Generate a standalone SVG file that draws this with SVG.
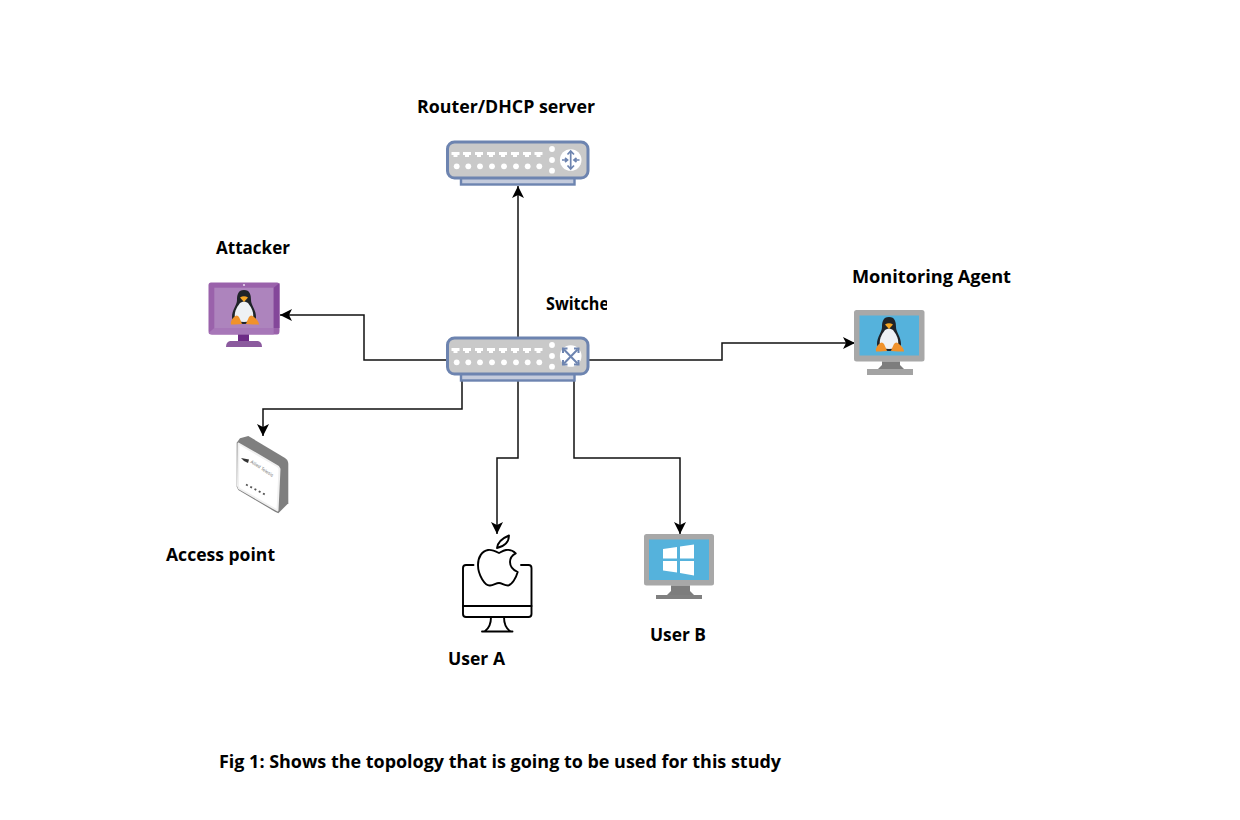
<svg xmlns="http://www.w3.org/2000/svg" width="1240" height="820" viewBox="0 0 1240 820">
<style>
.lbl{font-family:"Open Sans","Noto Sans","Liberation Sans",sans-serif;font-weight:700;font-size:18px;fill:#000}
.conn{fill:none;stroke:#111;stroke-width:1.5}
.body{fill:#c9c9c9;stroke:#6d84b0;stroke-width:3}
.base{fill:#c4cbdc;stroke:#6d84b0;stroke-width:2.4}
.sym{fill:none;stroke:#6d84b0;stroke-width:1.7}
.fine{font-family:"Liberation Sans",sans-serif;font-size:4.6px;fill:#777}
</style>
<defs>
<marker id="ah" markerUnits="userSpaceOnUse" markerWidth="14" markerHeight="14" refX="12" refY="6" orient="auto"><path d="M0 0L12 6L0 12L3 6Z" fill="#000"/></marker>
<clipPath id="swclip"><rect x="540" y="288" width="67" height="30"/></clipPath>
<g id="device">
<rect class="base" x="15" y="36" width="113.500" height="7.500"/>
<rect class="body" x="1.500" y="1" width="140.500" height="36" rx="7"/>
<g fill="#fff">
<path d="M5.500 11h8v3h-2v2h-4v-2h-2z"/><path d="M17 11h8v3h-2v2h-4v-2h-2z"/><path d="M29 11h8v3h-2v2h-4v-2h-2z"/><path d="M41 11h8v3h-2v2h-4v-2h-2z"/><path d="M53 11h8v3h-2v2h-4v-2h-2z"/><path d="M65 11h8v3h-2v2h-4v-2h-2z"/><path d="M77 11h8v3h-2v2h-4v-2h-2z"/><path d="M88.500 11h8v3h-2v2h-4v-2h-2z"/>
<circle cx="10.700" cy="25.300" r="2.900"/><circle cx="22.300" cy="25.300" r="2.900"/><circle cx="34" cy="25.300" r="2.900"/><circle cx="46" cy="25.300" r="2.900"/><circle cx="58" cy="25.300" r="2.900"/><circle cx="70" cy="25.300" r="2.900"/><circle cx="81.700" cy="25.300" r="2.900"/><circle cx="93.300" cy="25.300" r="2.900"/>
<circle cx="106" cy="8" r="2.900"/><circle cx="106" cy="19" r="2.900"/><circle cx="106" cy="29.700" r="2.900"/>
<circle cx="124.700" cy="19" r="10.800"/>
</g>
</g>
<g id="tux">
<path d="M0 -9C6 -9 7 -4 7 1C7 6 12 11 12 18C12 22 9 25 0 25C-9 25 -12 22 -12 18C-12 11 -7 6 -7 1C-7 -4 -6 -9 0 -9Z" fill="#1f2328"/>
<path d="M-4 4Q0 1 4 4C8 9 10 14 9 19Q7 23 0 23Q-7 23 -9 19C-10 14 -8 9 -4 4Z" fill="#eef1f5"/>
<path d="M-4 -1.500Q0 -4 4 -1.500L0 3Z" fill="#f5a623"/>
<path d="M-13 25.500Q-14 22 -10 18Q-7 15 -5 18Q-3 22 -2 25Q-6 25 -9 25.500Z" fill="#f0922b"/>
<path d="M15 25.500Q15 22 10 18Q7 15 5 18Q3 22 2 25Q6 25 9 25.500Z" fill="#f0922b"/>
</g>
</defs>

<g id="connectors">
<path class="conn" d="M518 337V186" marker-end="url(#ah)"/>
<path class="conn" d="M446 360H364V315H280" marker-end="url(#ah)"/>
<path class="conn" d="M589 360H722V343H855" marker-end="url(#ah)"/>
<path class="conn" d="M462 381V409H263V436" marker-end="url(#ah)"/>
<path class="conn" d="M518 381V458H497V534" marker-end="url(#ah)"/>
<path class="conn" d="M574 381V458H680V534" marker-end="url(#ah)"/>
</g>

<g id="router">
<use href="#device" x="446" y="141"/>
<g class="sym">
<path d="M570.700 151.500V168.500M567.500 154.500L570.700 151L574 154.500M567.500 165.500L570.700 169L574 165.500"/>
<path d="M562 160H567M565 158L567.500 160L565 162M579.500 160H574.500M576.500 158L574 160L576.500 162"/>
</g>
<text class="lbl" x="417" y="113" textLength="178" lengthAdjust="spacingAndGlyphs">Router/DHCP server</text>
</g>

<g id="switch">
<use href="#device" x="446" y="337"/>
<g class="sym" style="stroke-width:2">
<path d="M564 349.500L577.500 363.500M577.500 349.500L564 363.500"/>
<path d="M563 353V348.500H567.500M574 348.500H578.500V353M563 360V364.500H567.500M574 364.500H578.500V360"/>
</g>
<text class="lbl" x="546" y="310" clip-path="url(#swclip)" textLength="71" lengthAdjust="spacingAndGlyphs">Switches</text>
</g>

<g id="attacker">
<path d="M211 282.500H277Q279.500 282.500 279.500 285V331Q279.500 334.500 277 334.500H211Q208.500 334.500 208.500 331V285Q208.500 282.500 211 282.500Z" fill="#9a62ab"/>
<rect x="214.300" y="287.700" width="59.400" height="40.300" fill="#ad84bd"/>
<path d="M273.700 287.700L279.500 283V286V328H273.700Z" fill="#84479a"/>
<path d="M214.300 328L208.500 333L212 334.500H273.700V328Z" fill="#a777b8"/>
<circle cx="244" cy="285" r="1.100" fill="#e8d8ee"/>
<rect x="238" y="334.500" width="11" height="6.500" fill="#6d2a86"/>
<path d="M230 341H258Q262 342 262 347H226Q226 342 230 341Z" fill="#8b5a9e"/>
<use href="#tux" x="244" y="299"/>
<text class="lbl" x="216" y="254" textLength="74" lengthAdjust="spacingAndGlyphs">Attacker</text>
</g>

<g id="monitoring-agent">
<rect x="854" y="310" width="70.500" height="51.500" rx="2.500" fill="#a8a8a8"/>
<rect x="859.500" y="315.500" width="59.500" height="40" fill="#55b2dc"/>
<path d="M882 361.500H900V365L904 369H878L882 365Z" fill="#7d7d7d"/>
<rect x="867" y="369" width="46" height="6" fill="#a3a3a3"/>
<use href="#tux" x="889" y="326"/>
<text class="lbl" x="852" y="283" textLength="159" lengthAdjust="spacingAndGlyphs">Monitoring Agent</text>
</g>

<g id="access-point">
<path d="M236.700 442.700L240 438.300L248.300 436L285 458Q288.300 460 288.300 464V503.300L278.300 513.300L275 511.700L238.300 490L236.700 486.700Z" fill="#7f7f7f"/>
<path d="M238.500 443.500L278 466.500L279.500 469L277.500 510.500L239 488.500L238 486Z" fill="#fff" stroke="#f0f0f0" stroke-width="2" stroke-linejoin="round"/>
<path d="M241 458L249 459.500L248 463L244 461Z" fill="#333"/>
<text class="fine" transform="translate(250 462.500) rotate(33)">Allied Telesis</text>
<path d="M246 484.500L265 494.500" stroke="#555" stroke-width="1.800" stroke-dasharray="2 2.800" fill="none"/>
<text class="lbl" x="166" y="561" textLength="109" lengthAdjust="spacingAndGlyphs">Access point</text>
</g>

<g id="user-a">
<g fill="none" stroke="#000" stroke-width="1.900" stroke-linecap="round" stroke-linejoin="round">
<path d="M473.500 565H466Q463 565 463 568V614Q463 617 466 617H528.500Q531.500 617 531.500 614V568Q531.500 565 528.500 565H521"/>
<path d="M463 606H531.500"/>
<path d="M491 617Q491 627 485 631M504 617Q504 627 510 631M482 631.500H512.500"/>
<path d="M499 553C495 551 491 549.500 488 550C482 551 478 557 478 565C478 575 485 586 490 585.500C494 585 496 583 499 583C502 583 504 585.500 508 585.500C512 585 516 578 517.700 572C513 570 510 567 510 562C510 558 512.500 555 515.700 553.300C513 550.500 509 549.500 506 550C503 550.500 501 552 499 553Z"/>
<path d="M497 548Q498 540 509 535.500Q509 545 497 548Z"/>
</g>
<text class="lbl" x="448" y="665" textLength="57" lengthAdjust="spacingAndGlyphs">User A</text>
</g>

<g id="user-b">
<rect x="644" y="534" width="70" height="51.500" rx="2.500" fill="#a8a8a8"/>
<rect x="649" y="539.500" width="60" height="40.500" fill="#55b2dc"/>
<path d="M671 585.500H690V591L694 595H667L671 591Z" fill="#7d7d7d"/>
<rect x="656" y="595" width="46" height="4" fill="#808080"/>
<path d="M663 549L677 547V558.500H663ZM680 546.500L694 544.500V558.500H680ZM663 561H677V572.500L663 570.500ZM680 561H694V575.500L680 573Z" fill="#fff"/>
<text class="lbl" x="650" y="641" textLength="56" lengthAdjust="spacingAndGlyphs">User B</text>
</g>

<text id="caption" class="lbl" x="219" y="768" textLength="562" lengthAdjust="spacingAndGlyphs">Fig 1: Shows the topology that is going to be used for this study</text>
</svg>
